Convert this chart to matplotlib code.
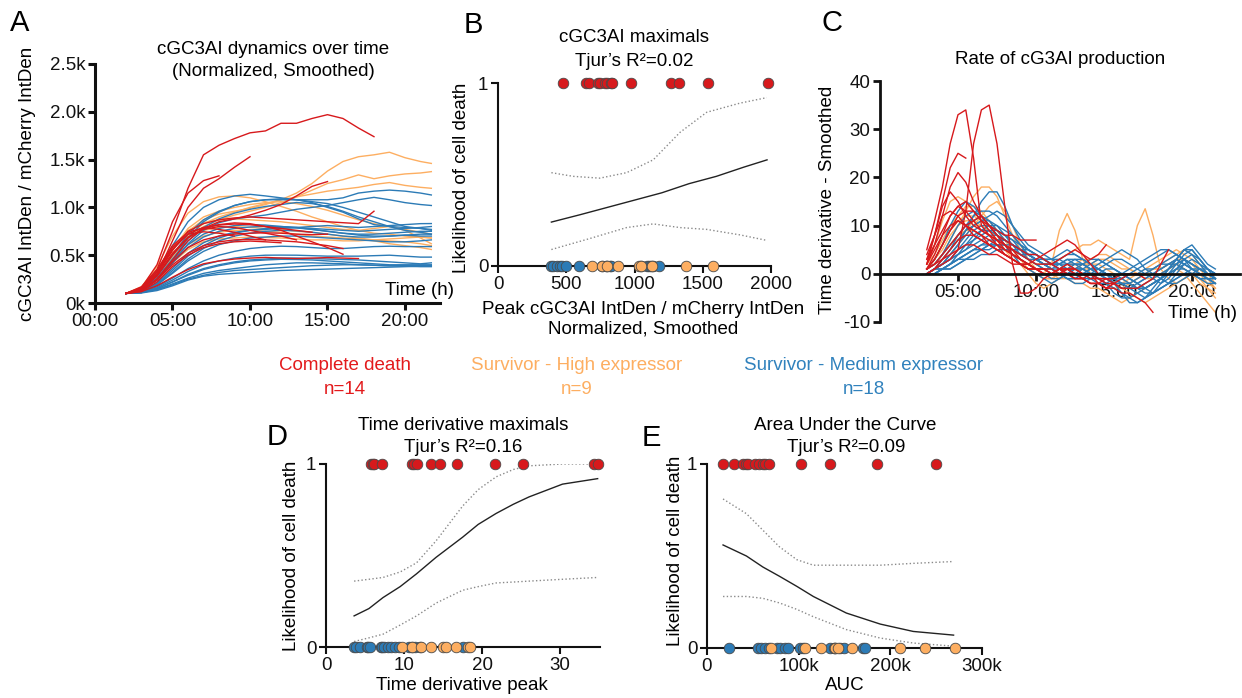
import matplotlib
matplotlib.use('Agg')
import matplotlib.pyplot as plt
from matplotlib.ticker import FuncFormatter

plt.rcParams['font.family'] = ['Liberation Sans', 'DejaVu Sans']
plt.rcParams['axes.unicode_minus'] = False

# ---------------- DATA ----------------
# Panel A: normalized cGC3AI traces (time in hours)
TIME_A = [2, 3, 4, 5, 6, 7, 8, 9, 10, 11, 12, 13, 14, 15, 16, 17, 18, 19, 20, 21, 21.7]

A_RED = [
    [100, 170, 350, 750, 1200, 1550, 1650, 1720, 1780, 1800, 1880, 1880, 1930, 1970, 1930, 1830, 1740],
    [100, 150, 300, 650, 1000, 1200, 1300, 1420, 1530],
    [100, 160, 400, 850, 1150, 1280, 1330],
    [100, 130, 250, 450, 650, 780, 850, 880, 920, 970, 1030, 1120, 1220, 1270],
    [100, 150, 300, 550, 750, 830, 870, 890, 900, 890, 880, 870, 860, 850, 840, 830, 960],
    [100, 140, 280, 500, 680, 780, 820, 838, 830, 800, 760, 700, 640, 580, 510],
    [100, 120, 180, 270, 350, 410, 440, 460, 470, 477, 470, 465, 470, 475, 470, 465],
    [100, 150, 320, 560, 720, 790, 815, 826, 820, 800, 780, 760, 740],
    [100, 140, 290, 520, 690, 770, 800, 790, 760, 730, 700, 660],
    [100, 160, 350, 600, 740, 787, 770, 740, 700, 660],
    [100, 150, 330, 580, 720, 745, 730, 700],
    [100, 130, 250, 430, 580, 660, 700, 720, 730, 734, 730, 720, 715, 720],
    [100, 130, 240, 400, 520, 600, 640, 660, 665, 660, 650, 640, 620, 600, 570],
    [100, 120, 220, 380, 500, 580, 620, 640, 648, 640, 630],
]
A_ORANGE = [
    [100, 140, 300, 550, 750, 870, 930, 960, 990, 1030, 1080, 1150, 1250, 1380, 1480, 1530, 1550, 1577, 1520, 1480, 1460],
    [100, 130, 260, 480, 680, 800, 870, 920, 960, 1000, 1050, 1110, 1180, 1250, 1290, 1340, 1300, 1330, 1350, 1360, 1374],
    [100, 140, 280, 500, 700, 830, 900, 950, 1000, 1040, 1080, 1110, 1140, 1170, 1190, 1210, 1240, 1260, 1230, 1210, 1200],
    [100, 170, 380, 700, 940, 1060, 1110, 1120, 1100, 1060, 1010, 960, 900, 850, 800, 760, 730, 720, 700, 690, 680],
    [100, 150, 300, 560, 780, 900, 960, 1000, 1030, 1050, 1060, 1040, 1010, 970, 920, 870, 830, 800, 770, 740, 720],
    [100, 150, 320, 580, 760, 840, 870, 880, 870, 860, 850, 830, 810, 790, 770, 760, 780, 800, 760, 680, 620],
    [100, 140, 290, 520, 680, 760, 790, 800, 790, 780, 770, 750, 740, 720, 700, 680, 660, 650, 640, 620, 600],
    [100, 130, 250, 450, 610, 700, 740, 760, 763, 750, 740, 720, 700, 690, 680, 670, 650, 620, 600, 580, 560],
    [100, 130, 240, 420, 560, 640, 670, 680, 690, 685, 680, 670, 660, 660, 650, 650, 660, 670, 680, 690, 680],
]
A_BLUE = [
    [100, 130, 250, 450, 680, 850, 950, 1020, 1060, 1080, 1080, 1080, 1080, 1080, 1100, 1150, 1170, 1181, 1170, 1150, 1130],
    [100, 150, 330, 600, 850, 1000, 1080, 1120, 1137, 1120, 1100, 1080, 1050, 1000, 950, 880, 820, 800, 790, 780, 770],
    [100, 130, 240, 420, 620, 760, 840, 880, 900, 920, 950, 980, 1000, 1020, 1050, 1080, 1105, 1080, 1050, 1030, 1020],
    [100, 140, 280, 500, 720, 870, 960, 1020, 1060, 1080, 1090, 1080, 1060, 1040, 1000, 950, 900, 850, 800, 780, 760],
    [100, 140, 260, 460, 650, 790, 880, 940, 980, 1010, 1030, 1051, 1040, 1010, 960, 900, 850, 800, 760, 740, 720],
    [100, 120, 210, 360, 520, 630, 700, 740, 760, 770, 780, 790, 800, 810, 800, 790, 800, 810, 820, 830, 831],
    [100, 130, 250, 440, 610, 720, 780, 810, 820, 815, 800, 790, 780, 770, 760, 750, 760, 770, 780, 790, 800],
    [100, 130, 240, 420, 580, 690, 750, 780, 795, 802, 800, 790, 770, 750, 730, 720, 720, 730, 740, 750, 750],
    [100, 120, 200, 340, 490, 600, 680, 730, 760, 780, 790, 785, 770, 750, 730, 710, 700, 700, 710, 720, 720],
    [100, 120, 190, 320, 460, 570, 650, 700, 730, 750, 760, 755, 740, 720, 700, 690, 690, 700, 710, 700, 700],
    [100, 120, 190, 310, 440, 540, 610, 650, 680, 690, 700, 700, 690, 680, 670, 660, 650, 640, 640, 650, 660],
    [100, 115, 170, 260, 360, 440, 500, 540, 570, 585, 594, 590, 580, 570, 570, 580, 590, 594, 590, 590, 590],
    [100, 110, 160, 240, 330, 400, 440, 470, 490, 500, 501, 500, 495, 490, 490, 490, 495, 500, 490, 480, 480],
    [100, 110, 150, 220, 300, 360, 400, 430, 450, 460, 470, 470, 465, 460, 455, 450, 440, 430, 420, 410, 420],
    [100, 110, 150, 220, 290, 350, 390, 420, 440, 450, 457, 455, 450, 440, 430, 420, 410, 400, 400, 400, 400],
    [100, 110, 140, 200, 260, 310, 340, 360, 380, 400, 410, 420, 420, 415, 410, 400, 395, 390, 390, 390, 390],
    [100, 110, 140, 190, 250, 290, 320, 340, 350, 360, 370, 380, 390, 395, 400, 400, 395, 390, 385, 380, 380],
    [100, 105, 130, 180, 240, 280, 300, 310, 320, 330, 340, 345, 350, 355, 360, 365, 370, 375, 380, 385, 390],
]

# Panel C: smoothed time derivative
TIME_C = [3.0, 3.5, 4.0, 4.5, 5.0, 5.5, 6.0, 6.5, 7.0, 7.5, 8.0, 8.5, 9.0, 9.5, 10.0, 10.5,
          11.0, 11.5, 12.0, 12.5, 13.0, 13.5, 14.0, 14.5, 15.0, 15.5, 16.0, 16.5, 17.0, 17.5,
          18.0, 18.5, 19.0, 19.5, 20.0, 20.5, 21.0, 21.5]

C_RED = [
    [5, 11, 18, 27, 33, 34, 24, 10, 8, 6, 4, 3, 2, 1, 1, 0, 0, 1, 0, 0, -1, -2, -2, -3, -3, -4, -4, -5, -6, -8],
    [1, 2, 3, 4, 5, 13, 27, 34, 35, 27, 14, 2, -4, -4, -3, -1, 0, 1, 0, -1, -1, 0, -2, -3, -2, -1, 0],
    [3, 8, 15, 22, 25, 24],
    [2, 6, 12, 18, 21, 19, 15, 12, 10, 8, 7, 6, 5, 4, 4, 3, 2, 3, 4, 5, 4, 3, 4, 6],
    [2, 8, 14, 17, 15, 12, 10, 9, 8, 7, 6, 5, 4, 3, 2, 2, 2, 1, 1, 0, -1, -2, -2, -1, -2, -3, -3, -3, -2, -1, 2, 5],
    [1, 4, 8, 12, 14, 13, 11, 9, 8, 7, 6, 5, 3, 2, 1, 0, 0, 0, 1, 1, 0, -1, -1, -2, -2, -3],
    [0, 1, 2, 3, 5, 6, 6, 5, 4, 4, 3, 2, 2, 1, 1, 0, 0, 1, 1, 0, 0, 0, -1, -1, -1, 0, 0, 0, -1],
    [1, 3, 6, 9, 12, 13, 13, 11, 9, 7, 5, 4, 3, 2, 1, 1, 0, 0, 1, 1, 0, 0],
    [1, 2, 4, 6, 8, 10, 11, 12, 10, 8, 6, 4, 3, 2, 1, 1, 0, 1, 2, 1],
    [3, 6, 9, 12, 14, 15, 13, 11, 10, 9, 8, 8, 7, 7, 7],
    [1, 3, 6, 9, 11, 10, 9, 8, 7, 6, 5, 4, 3],
    [2, 5, 8, 10, 11, 10, 9, 8, 6, 5, 4, 3, 2, 2, 3, 4, 5, 6, 7, 6, 4, 2, 0],
    [0, 1, 3, 5, 7, 8, 8, 7, 6, 5, 4, 3, 2, 1, 1],
    [4, 8, 12, 13, 12, 10, 8, 7, 6, 5, 4, 3, 2, 2, 1, 1, 1, 0, 0, -1, -1, -2, -2, -3, -2],
]
C_ORANGE = [
    [1, 2, 4, 7, 10, 13, 16, 18, 18, 16, 12, 8, 5, 3, 2, 1, 0, 0, 1, 2, 3, 3, 4, 4, 3, 2, 1, 0, -1, -1, 0, 1, 2, 1, 0, -2, -3, -4],
    [2, 6, 11, 15, 16, 15, 13, 11, 9, 7, 5, 3, 2, 1, 0, -1, -1, 0, 1, 1, 2, 2, 2, 1, 0, -1, -2, -3, -2, -1, 0, 1, 2, 3, 2, 0, -2, -3],
    [1, 3, 5, 8, 10, 11, 11, 10, 9, 7, 5, 4, 3, 2, 1, 0, 2, 9, 12.5, 9, 3, 0, -1, -1, -2, -2, -2, -1, 0, 1, 1, 2, 3, 3, 2, 1, 0, -1],
    [1, 2, 4, 6, 8, 9, 10, 10, 9, 8, 7, 5, 4, 3, 2, 2, 2, 3, 4, 5, 6, 6, 7, 6, 5, 4, 3, 10, 13.5, 8, 1, -1, -2, -1, 0, 1, 0, -1],
    [1, 2, 4, 6, 8, 9, 9, 8, 7, 6, 5, 4, 3, 2, 1, 0, 0, -1, -1, -2, -2, -3, -3, -4, -5, -6, -5, -4, -3, -2, -1, 0, 1, 0, -2, -4, -6, -8],
    [0, 1, 3, 5, 7, 9, 11, 12, 11, 9, 7, 5, 3, 2, 1, 0, -1, -1, 0, 0, 1, 1, 0, -1, -2, -3, -4, -5, -6, -5, -4, -3, -2, -1, 0, -1, -3, -5],
    [1, 3, 6, 9, 11, 12, 12, 11, 10, 8, 6, 4, 2, 0, -2, -3, -2, -1, 0, 1, 2, 2, 3, 3, 2, 1, 1, 0, 0, 1, 2, 3, 4, 5, 4, 2, 0, -2],
    [2, 4, 7, 10, 12, 14, 14, 13, 11, 9, 7, 5, 3, 1, 0, -1, -1, 0, 1, 1, 0, 0, -1, -1, -2, -2, -1, 0, 1, 2, 3, 4, 5, 4, 3, 1, -1, -3],
    [0, 1, 2, 4, 6, 8, 10, 12, 14, 15, 13, 10, 6, 3, 1, 0, 0, 1, 2, 2, 1, 0, -1, -2, -3, -3, -2, -1, 0, 1, 1, 2, 2, 1, 0, -1, -2, -2],
]
C_BLUE = [
    [0, 1, 2, 4, 6, 9, 12, 15, 17, 17, 14, 10, 7, 5, 4, 3, 2, 2, 3, 3, 2, 1, 0, -1, -2, -3, -3, -2, -1, 0, 1, 2, 2, 1, 0, -1, -1, -2],
    [1, 3, 6, 10, 13, 15, 14, 12, 10, 8, 6, 4, 3, 2, 1, 0, -1, -1, 0, 1, 2, 3, 3, 2, 1, 0, -1, -2, -3, -2, -1, 1, 3, 5, 4, 2, 1, 0],
    [1, 2, 4, 7, 10, 12, 13, 12, 10, 8, 6, 4, 2, 1, 0, -1, -2, -1, 0, 1, 1, 0, -1, -2, -4, -5, -5, -4, -3, -2, -1, 0, 1, 2, 1, 0, -1, -1],
    [0, 1, 3, 5, 8, 10, 11, 12, 11, 9, 7, 6, 5, 4, 3, 2, 2, 3, 4, 4, 3, 2, 1, 0, -1, -2, -2, -1, 0, 1, 2, 3, 4, 3, 2, 1, 0, -1],
    [0, 1, 2, 4, 6, 8, 10, 11, 11, 10, 8, 6, 4, 3, 2, 1, 0, 0, 1, 2, 2, 1, 0, -1, -1, -2, -3, -4, -5, -4, -2, 0, 2, 4, 5, 3, 1, 0],
    [0, 1, 2, 3, 5, 7, 9, 10, 10, 9, 8, 7, 5, 3, 2, 1, 1, 2, 3, 2, 1, 0, -1, -2, -3, -4, -5, -6, -5, -3, -1, 1, 3, 5, 6, 4, 2, 1],
    [0, 1, 2, 3, 4, 6, 7, 9, 10, 10, 9, 8, 6, 5, 4, 3, 3, 4, 5, 4, 3, 2, 1, 0, -1, -1, 0, 1, 2, 3, 4, 5, 4, 3, 1, 0, -1, -2],
    [0, 1, 2, 3, 5, 6, 8, 9, 9, 8, 7, 6, 5, 4, 3, 2, 1, 0, -1, -1, 0, 1, 1, 0, -1, -2, -3, -3, -2, -1, 0, 1, 2, 3, 2, 1, 0, 0],
    [0, 0, 1, 2, 4, 5, 7, 8, 9, 9, 8, 7, 6, 5, 4, 3, 2, 1, 0, 0, 1, 2, 3, 2, 1, 0, -1, -2, -1, 0, 1, 2, 3, 2, 1, 0, -1, -1],
    [0, 1, 2, 3, 4, 5, 6, 7, 8, 8, 7, 6, 5, 4, 3, 2, 1, 1, 2, 3, 3, 2, 1, 0, -2, -4, -6, -6, -5, -4, -3, -2, -1, 0, 0, -1, -1, -2],
    [0, 0, 1, 2, 3, 4, 5, 6, 7, 7, 7, 6, 5, 4, 3, 3, 3, 2, 1, 0, -1, -1, -2, -2, -1, 0, 1, 2, 3, 4, 5, 5, 4, 3, 2, 1, 0, -1],
    [0, 1, 1, 2, 3, 4, 5, 6, 6, 7, 7, 6, 5, 4, 3, 2, 1, 0, -1, -2, -2, -1, 0, 1, 1, 0, -1, -2, -3, -4, -3, -2, 0, 2, 3, 2, 0, -1],
    [0, 0, 1, 1, 2, 3, 4, 5, 6, 6, 6, 6, 5, 5, 4, 3, 2, 2, 1, 1, 0, 0, -1, -1, -2, -2, -3, -3, -4, -4, -3, -2, -1, 0, 1, 1, 0, 0],
    [0, 0, 1, 2, 3, 3, 4, 5, 5, 6, 6, 5, 5, 4, 4, 3, 2, 1, 0, -1, -1, 0, 1, 2, 3, 3, 2, 1, 0, -1, -2, -1, 1, 3, 4, 3, 1, 0],
    [0, 1, 1, 2, 3, 4, 5, 5, 6, 6, 5, 5, 4, 3, 3, 2, 2, 1, 1, 0, 0, -1, -1, -1, -2, -2, -2, -3, -3, -2, -1, 0, 1, 1, 0, -1, -2, -2],
    [0, 0, 1, 1, 2, 3, 3, 4, 4, 5, 5, 5, 4, 4, 3, 3, 2, 2, 2, 1, 1, 0, 0, -1, -1, -1, 0, 0, 1, 1, 2, 2, 3, 2, 1, 0, 0, -1],
    [1, 2, 4, 6, 8, 10, 12, 13, 13, 12, 10, 8, 6, 4, 3, 2, 1, 0, -1, -1, 0, 1, 2, 3, 4, 5, 4, 3, 1, 0, -1, -2, -2, -1, 0, 1, 1, 0],
    [0, 1, 3, 5, 7, 9, 10, 11, 12, 13, 12, 10, 8, 6, 5, 4, 3, 3, 2, 2, 2, 1, 1, 0, 0, -1, -2, -3, -3, -2, -1, 1, 3, 5, 5, 3, 1, -1],
]

# Panel B: peak values (dead = 1, survivors = 0)
B_RED = [477, 648, 665, 734, 745, 787, 800, 826, 838, 971, 1267, 1323, 1540, 1981]
B_ORANGE = [690, 763, 800, 880, 1032, 1050, 1130, 1374, 1577]
B_BLUE = [391, 400, 430, 457, 470, 501, 594, 760, 790, 802, 820, 831, 1051, 1090, 1105, 1120, 1137, 1181]
B_FIT_X = [391, 600, 800, 1000, 1200, 1400, 1600, 1800, 1971]
B_FIT_Y = [0.24, 0.28, 0.32, 0.36, 0.40, 0.45, 0.49, 0.54, 0.58]
B_UP_X = [391, 550, 746, 942, 1137, 1333, 1529, 1773, 1969]
B_UP_Y = [0.51, 0.49, 0.48, 0.51, 0.58, 0.73, 0.84, 0.89, 0.92]
B_LO_X = [391, 672, 942, 1137, 1333, 1529, 1773, 1969]
B_LO_Y = [0.09, 0.15, 0.21, 0.23, 0.21, 0.20, 0.17, 0.14]

# Panel D: time-derivative peaks
D_RED = [5.8, 6.0, 6.1, 7.2, 11.0, 11.3, 11.6, 13.5, 14.6, 16.8, 21.6, 25.2, 34.3, 34.8]
D_ORANGE = [9.7, 11.0, 12.2, 13.5, 15.0, 15.4, 16.6, 18.2, 18.4]
D_BLUE = [3.6, 3.9, 4.3, 5.2, 5.4, 5.6, 7.0, 7.2, 7.4, 8.0, 8.3, 8.9, 9.3, 10.6, 11.0, 11.4, 12.0, 17.6]
D_FIT_X = [3.6, 5.5, 7.3, 9.5, 11.6, 14.1, 17.5, 19.5, 21.8, 24.0, 26.0, 30.3, 34.8]
D_FIT_Y = [0.17, 0.21, 0.27, 0.33, 0.40, 0.49, 0.60, 0.67, 0.73, 0.78, 0.82, 0.89, 0.92]
D_UP_Y = [0.36, 0.37, 0.38, 0.41, 0.46, 0.58, 0.77, 0.86, 0.93, 0.97, 0.99, 1.0, 1.0]
D_LO_Y = [0.03, 0.05, 0.07, 0.12, 0.17, 0.24, 0.31, 0.33, 0.35, 0.355, 0.36, 0.37, 0.38]

# Panel E: area under the curve
E_RED = [17500, 29000, 39000, 43000, 45000, 52000, 57000, 61000, 63000, 68000, 103000, 134000, 185000, 250000]
E_ORANGE = [70000, 107000, 124000, 140000, 143000, 158000, 210000, 238000, 270000]
E_BLUE = [24000, 56000, 59000, 63000, 68000, 76000, 80000, 85000, 88000, 101000, 105000, 134000,
          138000, 140000, 145000, 149000, 170000, 172000]
E_FIT_X = [17500, 43000, 61000, 79000, 98000, 116000, 152000, 189000, 225000, 269000]
E_FIT_Y = [0.56, 0.50, 0.44, 0.39, 0.335, 0.28, 0.19, 0.13, 0.09, 0.07]
E_UP_Y = [0.81, 0.73, 0.64, 0.55, 0.48, 0.45, 0.45, 0.45, 0.46, 0.47]
E_LO_Y = [0.28, 0.28, 0.27, 0.245, 0.21, 0.17, 0.10, 0.054, 0.027, 0.01]

GROUP_LABELS = ['Complete death', 'Survivor - High expressor', 'Survivor - Medium expressor']
GROUP_N = ['n=14', 'n=9', 'n=18']

# ---------------- STYLE ----------------
RED = '#D7191C'
ORANGE = '#FDAE61'
BLUE = '#2C7BB6'
EDGE = '#4a4a4a'
FS = 13.5
W, H = 1242, 698

fig = plt.figure(figsize=(W / 100, H / 100), dpi=100)


def rect(x0, y0, x1, y1):
    return [x0 / W, 1 - y1 / H, (x1 - x0) / W, (y1 - y0) / H]


def ftext(x, y, s, **kw):
    kw.setdefault('ha', 'center')
    kw.setdefault('va', 'center')
    kw.setdefault('fontsize', FS)
    fig.text(x / W, 1 - y / H, s, **kw)


def style(ax, lw):
    for s in ['top', 'right']:
        ax.spines[s].set_visible(False)
    for s in ['left', 'bottom']:
        ax.spines[s].set_linewidth(lw)
        ax.spines[s].set_color('#111111')
    ax.tick_params(width=lw, length=5, labelsize=FS, colors='#111111', pad=2)
    ax.patch.set_alpha(0)


hhmm = FuncFormatter(lambda v, p: f'{int(round(v)):02d}:00')

# ---- Panel A ----
axA = fig.add_axes(rect(95, 64, 440, 303))
for grp, col in [(A_ORANGE, ORANGE), (A_BLUE, BLUE), (A_RED, RED)]:
    for s in grp:
        axA.plot(TIME_A[:len(s)], s, color=col, lw=1.0)
axA.set_xlim(0, 22.26)
axA.set_ylim(0, 2500)
axA.set_xticks([0, 5, 10, 15, 20])
axA.xaxis.set_major_formatter(hhmm)
axA.set_yticks([0, 500, 1000, 1500, 2000, 2500])
axA.yaxis.set_major_formatter(FuncFormatter(lambda v, p: '0k' if v == 0 else f'{v / 1000:.1f}k'))
style(axA, 2.2)
ftext(385, 291, 'Time (h)', ha='left')
ftext(28, 184, 'cGC3AI IntDen / mCherry IntDen', rotation=90)
ftext(273, 49, 'cGC3AI dynamics over time')
ftext(273, 71, '(Normalized, Smoothed)')


# ---- logistic panels ----
def logistic_panel(ax, red, orange, blue, fx, fy, ux, uy, lx, ly):
    ax.plot(fx, fy, color='#222222', lw=1.0)
    ax.plot(ux, uy, color='#8a8a8a', lw=1.0, ls=':')
    ax.plot(lx, ly, color='#8a8a8a', lw=1.0, ls=':')
    kw = dict(s=58, edgecolors=EDGE, linewidths=0.6, clip_on=False, zorder=5)
    ax.scatter(red, [1] * len(red), c=RED, **kw)
    ax.scatter(blue, [0] * len(blue), c=BLUE, **kw)
    ax.scatter(orange, [0] * len(orange), c=ORANGE, **kw)
    ax.set_ylim(0, 1)
    ax.set_yticks([0, 1])
    style(ax, 1.5)


axB = fig.add_axes(rect(498, 83, 771, 266))
logistic_panel(axB, B_RED, B_ORANGE, B_BLUE, B_FIT_X, B_FIT_Y, B_UP_X, B_UP_Y, B_LO_X, B_LO_Y)
axB.set_xlim(0, 2000)
axB.set_xticks([0, 500, 1000, 1500, 2000])
ftext(634, 37, 'cGC3AI maximals')
ftext(634, 61, 'Tjur\u2019s R\u00b2=0.02')
ftext(461, 178, 'Likelihood of cell death', rotation=90)
ftext(643, 309, 'Peak cGC3AI IntDen / mCherry IntDen')
ftext(643, 329, 'Normalized, Smoothed')

axD = fig.add_axes(rect(326, 464, 600, 647))
logistic_panel(axD, D_RED, D_ORANGE, D_BLUE, D_FIT_X, D_FIT_Y, D_FIT_X, D_UP_Y, D_FIT_X, D_LO_Y)
axD.set_xlim(0, 35.1)
axD.set_xticks([0, 10, 20, 30])
ftext(463, 425, 'Time derivative maximals')
ftext(463, 447, 'Tjur\u2019s R\u00b2=0.16')
ftext(291, 556, 'Likelihood of cell death', rotation=90)
ftext(462, 686, 'Time derivative peak')

axE = fig.add_axes(rect(707, 464, 982, 648))
logistic_panel(axE, E_RED, E_ORANGE, E_BLUE, E_FIT_X, E_FIT_Y, E_FIT_X, E_UP_Y, E_FIT_X, E_LO_Y)
axE.set_xlim(0, 300000)
axE.set_xticks([0, 100000, 200000, 300000])
axE.xaxis.set_major_formatter(FuncFormatter(lambda v, p: '0' if v == 0 else f'{int(v / 1000)}k'))
ftext(845, 425, 'Area Under the Curve')
ftext(846, 447, 'Tjur\u2019s R\u00b2=0.09')
ftext(675, 551, 'Likelihood of cell death', rotation=90)
ftext(845, 685, 'AUC')

# ---- Panel C ----
axC = fig.add_axes(rect(880, 81, 1240, 322))
for grp, col in [(C_ORANGE, ORANGE), (C_BLUE, BLUE), (C_RED, RED)]:
    for s in grp:
        axC.plot(TIME_C[:len(s)], s, color=col, lw=1.0)
axC.set_xlim(0, 23.08)
axC.set_ylim(-10, 40)
style(axC, 2.0)
axC.spines['bottom'].set_position(('data', 0))
axC.set_xticks([5, 10, 15, 20])
axC.xaxis.set_major_formatter(hhmm)
axC.set_yticks([-10, 0, 10, 20, 30, 40])
ftext(1060, 60, 'Rate of cG3AI production')
ftext(828, 200, 'Time derivative - Smoothed', rotation=90)
ftext(1168, 313, 'Time (h)', ha='left')

# ---- group labels ----
for (x, col), lab, n in zip([(345, '#E31A1C'), (577, ORANGE), (864, '#3182BD')], GROUP_LABELS, GROUP_N):
    ftext(x, 366, lab, color=col)
    ftext(x, 389, n, color=col)

# ---- panel letters ----
for x, y, L in [(20, 23, 'A'), (473, 25, 'B'), (832, 23, 'C'), (277, 437, 'D'), (651, 438, 'E')]:
    ftext(x, y, L, fontsize=21)

fig.savefig('out.png', dpi=100)
